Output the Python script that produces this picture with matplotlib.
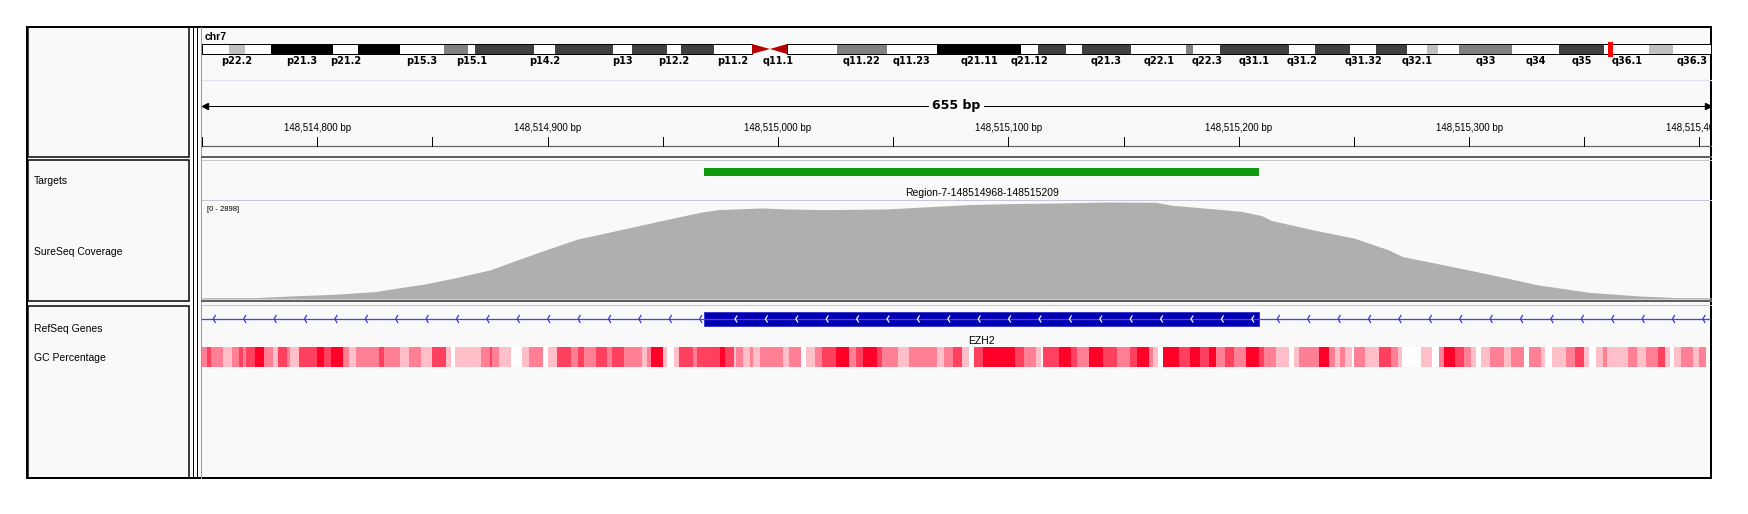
import numpy as np
import matplotlib
matplotlib.use("Agg")
import matplotlib.pyplot as plt
from matplotlib.patches import Rectangle, Polygon

plt.rcParams.update({"font.family": ["Liberation Sans", "DejaVu Sans"], "font.size": 7.5})

W, H = 1749, 514
PX = 0.72  # one pixel in points at dpi 100

# ---- data -------------------------------------------------------------
chrom = "chr7"
chrom_len = 159.138663  # Mb
locus_mb = 148.5149

band_name = ["p22.3", "p22.2", "p22.1", "p21.3", "p21.2", "p21.1", "p15.3", "p15.2", "p15.1",
             "p14.3", "p14.2", "p14.1", "p13", "p12.3", "p12.2", "p12.1", "p11.2",
             "q11.21", "q11.22", "q11.23", "q21.11", "q21.12", "q21.13", "q21.2", "q21.3",
             "q22.1", "q22.2", "q22.3", "q31.1", "q31.2", "q31.31", "q31.32", "q31.33",
             "q32.1", "q32.2", "q32.3", "q33", "q34", "q35", "q36.1", "q36.2", "q36.3"]
band_start = [0.0, 2.8, 4.5, 7.3, 13.8, 16.5, 20.9, 25.5, 28.0, 28.8, 35.0, 37.2, 43.3, 45.4,
              49.0, 50.5, 54.0, 61.7, 67.0, 72.2, 77.5, 86.4, 88.2, 91.1, 92.8, 98.0, 103.8,
              104.5, 107.4, 114.6, 117.4, 121.1, 123.8, 127.1, 129.2, 130.4, 132.6, 138.2,
              143.1, 147.9, 152.6, 155.1]
band_end = band_start[1:17] + [58.0] + band_start[18:] + [chrom_len]
band_stain = ["gneg", "gpos25", "gneg", "gpos100", "gneg", "gpos100", "gneg", "gpos50", "gneg",
              "gpos75", "gneg", "gpos75", "gneg", "gpos75", "gneg", "gpos75", "gneg",
              "gneg", "gpos50", "gneg", "gpos100", "gneg", "gpos75", "gneg", "gpos75",
              "gneg", "gpos50", "gneg", "gpos75", "gneg", "gpos75", "gneg", "gpos75",
              "gneg", "gpos25", "gneg", "gpos50", "gneg", "gpos75", "gneg", "gpos25", "gneg"]
cen_start, cen_mid, cen_end = 58.0, 59.9, 61.7
shown_labels = ["p22.2", "p21.3", "p21.2", "p15.3", "p15.1", "p14.2", "p13", "p12.2", "p11.2",
                "q11.22", "q11.23", "q21.11", "q21.12", "q21.3", "q22.1", "q22.3", "q31.1",
                "q31.2", "q31.32", "q32.1", "q33", "q34", "q35", "q36.1", "q36.3"]

view_start = 148514750
view_end = 148515405
tick_step = 50

target_start, target_end = 148514968, 148515209
target_name = "Region-7-148514968-148515209"
gene_name = "EZH2"
exon_start, exon_end = 148514968, 148515209

cov_max = 2898
cov_off = [0, 23, 38, 57, 75, 86, 96, 109, 125, 135, 148, 163, 183, 200, 217, 224, 243, 254,
           271, 297, 319, 333, 351, 373, 392, 414, 421, 443, 451, 460, 464, 482, 500, 515, 521,
           539, 558, 580, 602, 624, 641, 655]
cov_depth = [40, 40, 90, 140, 220, 340, 440, 620, 870, 1120, 1440, 1790, 2090, 2350, 2600, 2670,
             2720, 2690, 2670, 2690, 2770, 2820, 2850, 2870, 2898, 2890, 2800, 2670, 2620, 2490,
             2350, 2070, 1820, 1470, 1270, 1020, 750, 420, 200, 90, 40, 40]

gc_end = [2, 4, 9, 13, 16, 18, 19, 23, 27, 31, 33, 37, 38, 42, 50, 53, 56, 61, 64, 67, 77, 79, 86,
          90, 95, 100, 106, 108, 110, 121, 125, 126, 129, 134, 139, 142, 148, 150, 154, 160, 163,
          166, 171, 176, 178, 183, 191, 193, 195, 200, 202, 205, 207, 213, 215,
          225, 227, 231, 232, 235, 238, 239, 242, 252, 255, 260, 262, 266, 269, 275, 281, 284,
          287, 293, 295, 302, 307, 319, 322, 326, 330, 333, 335, 339, 353, 357, 362, 364, 365,
          372, 377, 380, 385, 391, 397, 403, 406, 411, 413, 415, 417, 424, 429, 433, 437,
          440, 444, 448, 453, 459, 461, 466, 472, 474, 476, 485, 489, 492, 494, 496, 499, 500,
          505, 511, 516, 519, 521, 529, 534, 537, 539, 544, 548, 551, 553, 555, 559, 565, 568,
          574, 576, 581, 583, 586, 592, 596, 600, 602, 605, 608, 610, 619, 623, 627, 632, 635,
          637, 639, 642, 647, 650, 653]
gc_pct = [50, 60, 50, 40, 50, 60, 50, 60, 70, 50, 40, 60, 50, 40, 60, 70, 60, 70, 50, 40, 50, 60,
          50, 40, 50, 40, 60, 40, 30, 40, 50, 60, 50, 40, 30, 40, 50, 30, 40, 60, 50,
          60, 50, 60, 50, 60, 50, 40, 50, 70, 40, 30, 40, 60, 50,
          60, 70, 60, 40, 50, 40, 50, 40, 50, 40, 50, 30, 40, 50, 60, 70, 50,
          60, 70, 60, 50, 40, 50, 40, 50, 60, 40, 30, 60, 70, 60, 50, 40, 30,
          60, 70, 60, 50, 70, 60, 50, 60, 70, 50, 40, 30, 70, 60, 70, 60,
          70, 50, 60, 50, 70, 60, 50, 40, 30, 40, 50, 70, 50, 40, 50, 40, 30,
          50, 40, 60, 50, 40, 30, 40, 30, 50, 70, 60, 50, 40, 30, 40, 50, 40,
          50, 30, 50, 40, 30, 40, 50, 60, 40, 30, 40, 50, 40, 50, 40, 50, 60,
          40, 30, 40, 50, 40, 50]

track_names = [("Targets", 181), ("SureSeq Coverage", 252), ("RefSeq Genes", 329), ("GC Percentage", 358)]

STAIN = {"gneg": "white", "gpos25": "#C0C0C0", "gpos50": "#808080",
         "gpos75": "#404040", "gpos100": "black"}

# ---- layout helpers -----------------------------------------------------
fig = plt.figure(figsize=(W / 100, H / 100), dpi=100)


def px_axes(x0, y0, x1, y1):
    a = fig.add_axes([x0 / W, 1 - y1 / H, (x1 - x0) / W, (y1 - y0) / H])
    a.axis("off")
    return a


def gc_color(p):
    f = np.clip((p - 30) / 40.0, 0, 1)
    return (1.0, 1 - f, 1 - 0.84 * f)


L, R, T, B = 27, 1711, 27, 478
DL = 202

cv = px_axes(0, 0, W, H)
cv.set_xlim(0, W); cv.set_ylim(H, 0)
cv.add_patch(Rectangle((L, T), R - L, B - T, fc="#F9F9F9", ec="none"))
# name panel boxes
for y0, y1 in [(T, 157), (160, 301), (306, B)]:
    cv.add_patch(Rectangle((L + 1, y0), 189 - L - 1, y1 - y0, fc="none", ec="black", lw=1.5 * PX))
for xv, c in [(193, "black"), (197, "black"), (201, "#9A9A9A")]:
    cv.plot([xv, xv], [T, B], color=c, lw=PX)
# horizontal dividers on data side
for yv, c, w in [(146, "#606060", 1.2), (157, "#606060", 2), (160, "#C8C8C8", 1),
                 (301, "#606060", 2), (305, "#C8C8C8", 1), (80, "#E2E2EA", 1.2), (200, "#C8C8D4", 1)]:
    cv.plot([DL, R], [yv, yv], color=c, lw=w * PX)
cv.add_patch(Rectangle((L, T), R - L, B - T, fc="none", ec="black", lw=2 * PX))
for name, yv in track_names:
    cv.text(34, yv, name, va="center", ha="left", fontsize=7.5)

# ---- ideogram -----------------------------------------------------------
ai = px_axes(DL, 30, R, 70)
ai.set_xlim(0, chrom_len); ai.set_ylim(70, 30)
ai.text(0.3, 37, chrom, fontsize=7.5, fontweight="bold", va="center", ha="left")
for nm, s, e, st in zip(band_name, band_start, band_end, band_stain):
    ai.add_patch(Rectangle((s, 44), e - s, 10, fc=STAIN[st], ec="none"))
    if nm in shown_labels:
        ai.text((s + e) / 2, 61.5, nm, fontsize=7, fontweight="bold", ha="center", va="center",
                family="DejaVu Sans")
ai.add_patch(Rectangle((0, 44), cen_start, 10, fc="none", ec="black", lw=PX))
ai.add_patch(Rectangle((cen_end, 44), chrom_len - cen_end, 10, fc="none", ec="black", lw=PX))
ai.add_patch(Polygon([(cen_start, 44), (cen_start, 54), (cen_mid, 49)], fc="#B40000", ec="none"))
ai.add_patch(Polygon([(cen_end, 44), (cen_end, 54), (cen_mid, 49)], fc="#B40000", ec="none"))
ai.text((cen_start + cen_end) / 2 + 0.9, 61.5, "q11.1", fontsize=7, fontweight="bold",
        ha="center", va="center", family="DejaVu Sans")
ai.add_patch(Rectangle((locus_mb - 0.2, 42), 0.45, 15, fc="#FF0000", ec="none"))

# ---- ruler --------------------------------------------------------------
ar = px_axes(DL, 90, R, 150)
ar.set_xlim(view_start, view_end); ar.set_ylim(150, 90)
for t in range(view_start, view_end, tick_step):
    ar.plot([t, t], [137, 146], color="black", lw=PX)
    if t % 100 == 0:
        ar.text(t, 128, f"{t:,} bp", ha="center", va="center", fontsize=7, clip_on=True)
ar.plot([view_start + 1, view_end - 1], [106, 106], color="black", lw=PX)
ar.plot([view_start + 1.5], [106], marker="<", color="black", ms=4)
ar.plot([view_end - 1.5], [106], marker=">", color="black", ms=4)
ar.text((view_start + view_end) / 2, 106, f"{view_end - view_start} bp", ha="center", va="center",
        fontsize=9, fontweight="bold", family="DejaVu Sans",
        bbox=dict(fc="#F9F9F9", ec="none", pad=2.5))

# ---- targets ------------------------------------------------------------
at = px_axes(DL, 160, R, 200)
at.set_xlim(view_start, view_end); at.set_ylim(200, 160)
at.add_patch(Rectangle((target_start, 168), target_end - target_start, 8, fc="#0F9A0F", ec="none"))
at.text((target_start + target_end) / 2, 193, target_name, ha="center", va="center", fontsize=7.5)

# ---- coverage -----------------------------------------------------------
ac = px_axes(DL, 202, R, 299)
ac.set_xlim(view_start, view_end); ac.set_ylim(0, cov_max)
cov_pos = [view_start + o for o in cov_off]
ac.fill_between(cov_pos, cov_depth, 0, color="#AFAFAF", lw=0)
ac.text(0.003, 0.96, f"[0 - {cov_max}]", transform=ac.transAxes, fontsize=5.5, va="top", ha="left")

# ---- genes + GC ---------------------------------------------------------
af = px_axes(DL, 305, R, B)
af.set_xlim(view_start, view_end); af.set_ylim(B, 305)
bp_px = (view_end - view_start) / (R - DL)
af.plot([view_start, view_end], [319, 319], color="#4646DC", lw=1.3 * PX)
xs, ys = [], []
for x in np.arange(view_start + 11.3 * bp_px, view_end, 30.4 * bp_px):
    if exon_start - 2 * bp_px < x < exon_end + 2 * bp_px:
        continue
    xs += [x + 2 * bp_px, x, x + 2 * bp_px, np.nan]
    ys += [315.5, 319, 322.5, np.nan]
af.plot(xs, ys, color="#3232D8", lw=1.2 * PX)
af.add_patch(Rectangle((exon_start, 312), exon_end - exon_start, 14, fc="#0000B2", ec="#3C3CC8", lw=PX))
xs, ys = [], []
for x in np.arange(exon_start + 30.7 * bp_px, exon_end - 3 * bp_px, 30.4 * bp_px):
    xs += [x + 2 * bp_px, x, x + 2 * bp_px, np.nan]
    ys += [316, 319, 322, np.nan]
af.plot(xs, ys, color="white", lw=1.2 * PX)
af.text((exon_start + exon_end) / 2, 341, gene_name, ha="center", va="center", fontsize=7.5)

gc_s = np.array([0] + gc_end[:-1]) + view_start
gc_w = np.diff([0] + gc_end)
af.bar(gc_s, 20, width=gc_w, bottom=347, align="edge",
       color=[gc_color(p) for p in gc_pct], lw=0, antialiased=False)

fig.savefig("out.png", dpi=100)
